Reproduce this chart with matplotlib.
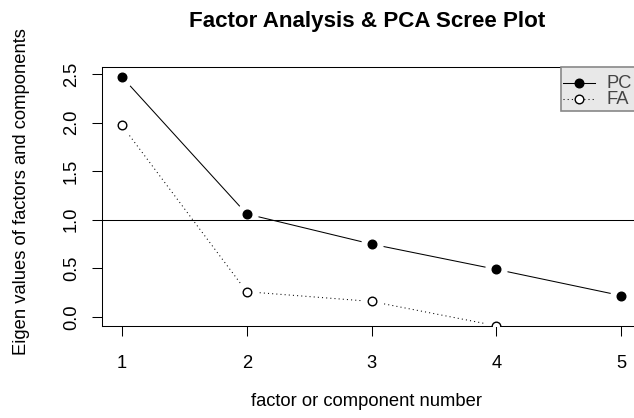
import matplotlib
matplotlib.use("Agg")
import matplotlib.pyplot as plt
from matplotlib.patches import Rectangle
from matplotlib.lines import Line2D

plt.rcParams['font.family'] = ['Liberation Sans', 'DejaVu Sans']

# data
factor_num = [1, 2, 3, 4, 5]
pc_values = [2.47, 1.06, 0.75, 0.49, 0.22]
fa_num = [1, 2, 3, 4]
fa_values = [1.97, 0.26, 0.16, -0.09]
y_ticks = [0.0, 0.5, 1.0, 1.5, 2.0, 2.5]
y_ticklabels = ['0.0', '0.5', '1.0', '1.5', '2.0', '2.5']

W, H = 634, 418
fig = plt.figure(figsize=(W / 100, H / 100), dpi=100)


def px(x, y):
    # pixel (from top-left) -> figure fraction
    return x / W, 1 - y / H


left, top = px(102, 67)
right, bottom = px(641, 326)
ax = fig.add_axes([left, bottom, right - left, top - bottom])

lw = 0.75
ms = 6.2
fs = 13.2
# lines first, white halos make the R "type='b'" gaps
ax.plot(factor_num, pc_values, color='black', lw=lw, zorder=1)
ax.plot(fa_num, fa_values, color='black', lw=lw, ls=(0, (1, 3)), zorder=1)
ax.plot(factor_num, pc_values, 'o', color='white', ms=ms + 9, zorder=2)
ax.plot(fa_num, fa_values, 'o', color='white', ms=ms + 9, zorder=2)
ax.axhline(1.0, color='black', lw=lw, zorder=3)
ax.plot(factor_num, pc_values, 'o', color='black', ms=ms, zorder=4)
ax.plot(fa_num, fa_values, 'o', mfc='white', mec='black', mew=1.0, ms=ms, zorder=4)

ax.set_xlim(0.84, 5.16)
ax.set_ylim(0.006 - 0.0987, 2.473 + 0.0987)
ax.set_xticks(factor_num)
ax.set_yticks(y_ticks)
ax.set_yticklabels(y_ticklabels, rotation=90, va='center')
ax.tick_params(axis='both', labelsize=fs, length=7, width=0.75, direction='out')
ax.tick_params(axis='x', pad=14)
ax.tick_params(axis='y', pad=9)
for s in ax.spines.values():
    s.set_linewidth(0.75)

fig.text(*px(367, 21), 'Factor Analysis & PCA Scree Plot', ha='center', va='center',
         fontsize=16.1, fontweight='bold')
fig.text(*px(367, 401), 'factor or component number', ha='center', va='center', fontsize=fs)
fig.text(*px(22, 192), 'Eigen values of factors and components', ha='center', va='center',
         rotation=90, fontsize=fs)

# legend box in the top right corner (partly cut off like the original)
lx0, ly0 = px(561, 67)
lx1, ly1 = px(645, 111)
fig.patches.append(Rectangle((lx0, ly1), lx1 - lx0, ly0 - ly1, transform=fig.transFigure,
                             facecolor='#e8e8e8', edgecolor='#888888', lw=1.2, zorder=5))
for yy, style, face, label in [(83, '-', 'black', 'PC'), (99, (0, (1, 3)), 'white', 'FA')]:
    x0, y0 = px(563, yy)
    x1, _ = px(595, yy)
    xm, _ = px(579, yy)
    fig.add_artist(Line2D([x0, x1], [y0, y0], transform=fig.transFigure, color='black',
                          lw=lw, ls=style, zorder=6))
    fig.add_artist(Line2D([xm], [y0], transform=fig.transFigure, marker='o', ms=ms,
                          mfc=face, mec='black', color='black', zorder=7))
    fig.text(*px(606, yy), label, ha='left', va='center', fontsize=fs, color='#444444',
             zorder=8)

fig.savefig('out.png', dpi=100)
